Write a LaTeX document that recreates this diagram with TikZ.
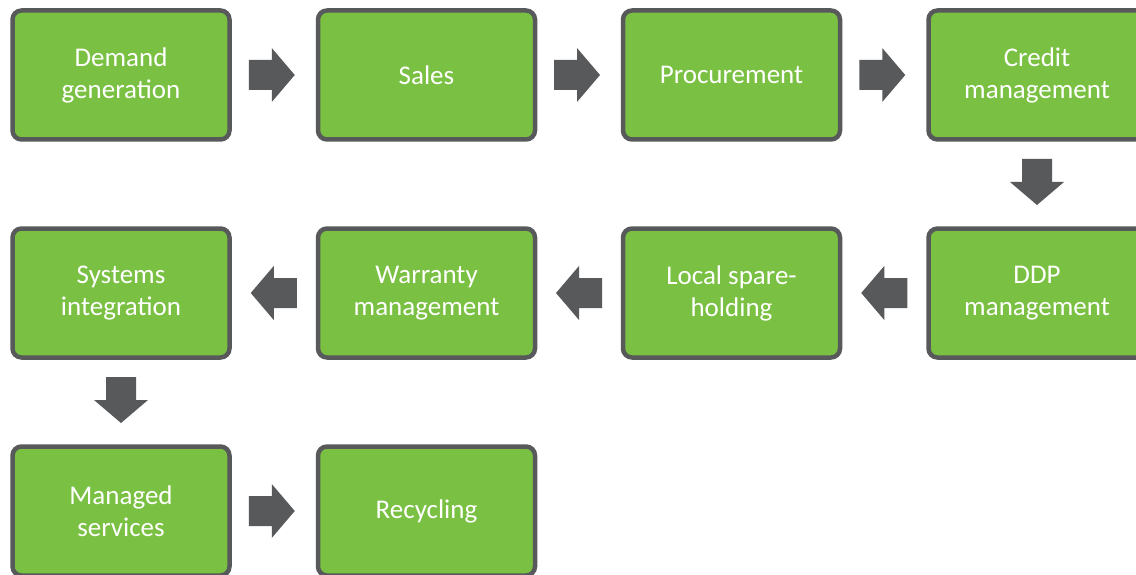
\documentclass[tikz,border=0pt]{standalone}
\usepackage{fontspec}
\setmainfont{Carlito}
\usetikzlibrary{calc}
\definecolor{boxgreen}{HTML}{7AC143}
\definecolor{edgegray}{HTML}{58595B}
\tikzset{
  stage/.style={rectangle, rounded corners=9pt, draw=edgegray, line width=4.5pt,
    fill=boxgreen, minimum width=217pt, minimum height=129pt, inner sep=0pt,
    text=white, align=center, font=\fontsize{27}{32}\selectfont},
  flowarrow/.pic={\fill[edgegray] (-23,-15) -- (0,-15) -- (0,-27) -- (23,0) -- (0,27) -- (0,15) -- (-23,15) -- cycle;}
}
\begin{document}
\begin{tikzpicture}[x=1pt,y=-1pt]
\useasboundingbox (0,0) rectangle (1136,575);
\node[stage] (dg) at (121,75) {Demand\\generation};
\node[stage] (sa) at (426.5,75) {Sales};
\node[stage] (pr) at (731.5,75) {Procurement};
\node[stage] (cm) at (1037,75) {Credit\\management};
\node[stage] (dd) at (1037,293) {DDP\\management};
\node[stage] (ls) at (731.5,293) {Local spare-\\holding};
\node[stage] (wm) at (426.5,293) {Warranty\\management};
\node[stage] (si) at (121,293) {Systems\\integration};
\node[stage] (ms) at (121,511) {Managed\\services};
\node[stage] (re) at (426.5,511) {Recycling};
\pic at ($(dg.east)!0.5!(sa.west)+(-2,0)$) {flowarrow};
\pic at ($(sa.east)!0.5!(pr.west)+(-2,0)$) {flowarrow};
\pic at ($(pr.east)!0.5!(cm.west)+(-2,0)$) {flowarrow};
\pic[rotate=-90] at ($(cm.south)!0.5!(dd.north)+(0,-2)$) {flowarrow};
\pic[rotate=180] at ($(dd.west)!0.5!(ls.east)+(0,0)$) {flowarrow};
\pic[rotate=180] at ($(ls.west)!0.5!(wm.east)+(0,0)$) {flowarrow};
\pic[rotate=180] at ($(wm.west)!0.5!(si.east)+(0,0)$) {flowarrow};
\pic[rotate=-90] at ($(si.south)!0.5!(ms.north)+(0,-2)$) {flowarrow};
\pic at ($(ms.east)!0.5!(re.west)+(-2,0)$) {flowarrow};
\end{tikzpicture}
\end{document}
